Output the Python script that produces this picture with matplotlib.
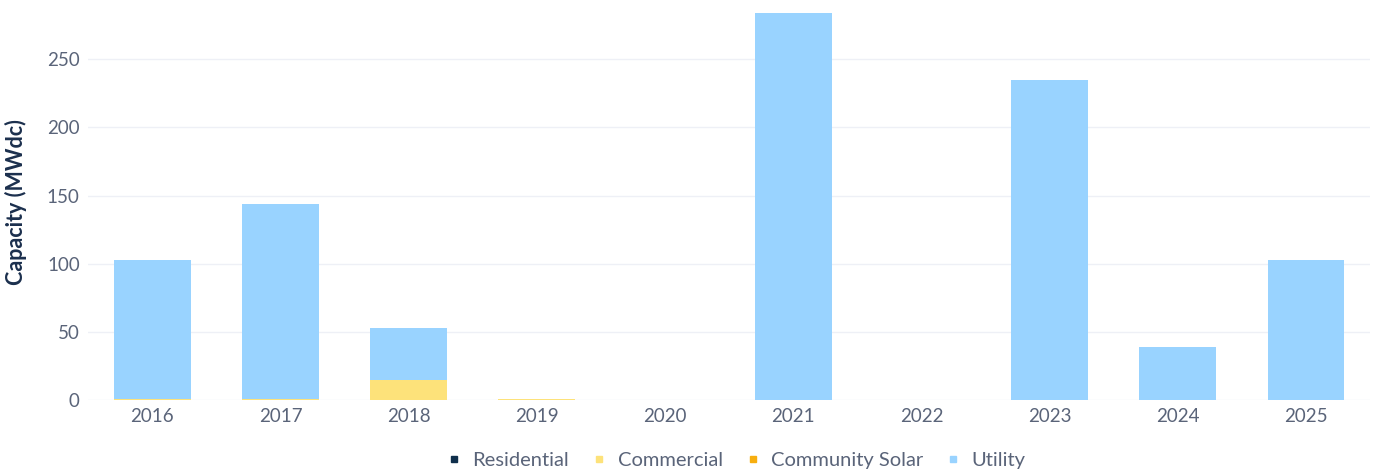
import matplotlib
matplotlib.use("Agg")
import matplotlib.pyplot as plt
import numpy as np

# data
years = ["2016", "2017", "2018", "2019", "2020", "2021", "2022", "2023", "2024", "2025"]
residential = [0, 0, 0, 0, 0, 0, 0, 0, 0, 0]
commercial = [1, 1, 15, 0.5, 0.2, 0, 0, 0, 0, 0]
community = [0, 0, 0, 0, 0, 0, 0, 0, 0, 0]
utility = [102, 143, 38, 0, 0, 284, 0, 235, 39, 103]

series = [("Residential", residential, "#0f2f4c"),
          ("Commercial", commercial, "#fde27a"),
          ("Community Solar", community, "#f7ae0f"),
          ("Utility", utility, "#99d3ff")]

plt.rcParams['font.family'] = ['Lato', 'DejaVu Sans']
txt = "#5a6479"

fig = plt.figure(figsize=(13.77, 4.69), dpi=100)
ax = fig.add_axes([0.064, 0.147, 0.931, 0.843])

x = np.arange(len(years))
bottom = np.zeros(len(years))
handles = []
for name, vals, col in series:
    v = np.array(vals, dtype=float)
    ax.bar(x, v, 0.6, bottom=bottom, color=col, linewidth=0, zorder=3)
    bottom += v
    handles.append(plt.Line2D([], [], marker="s", linestyle="", color=col,
                              markersize=5, label=name))

ax.set_xlim(-0.5, 9.5)
ax.set_ylim(0, 290)
ax.set_yticks([0, 50, 100, 150, 200, 250])
ax.set_xticks(x)
ax.set_xticklabels(years)
ax.grid(axis="y", color="#eef0f6", linewidth=1, zorder=0)
for s in ax.spines.values():
    s.set_visible(False)
ax.tick_params(length=0, labelsize=13.5, colors=txt, pad=6)
ax.set_ylabel("Capacity (MWdc)", fontsize=15.5, fontweight="bold", color="#1b2f4d", labelpad=14)

fig.legend(handles=handles, loc="lower center", ncol=4, frameon=False,
           bbox_to_anchor=(0.533, -0.038), fontsize=14.5, labelcolor=txt,
           handletextpad=0.3, columnspacing=0.9, handlelength=1.2)

fig.savefig("out.png", dpi=100)
